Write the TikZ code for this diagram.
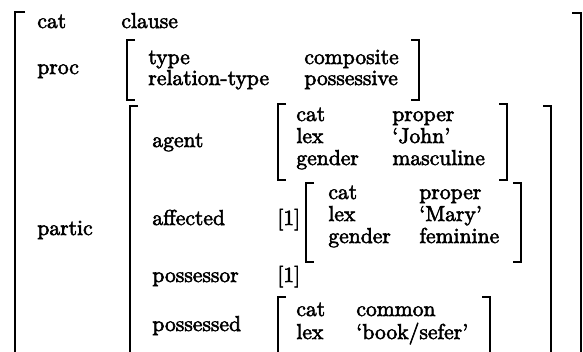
\documentclass[tikz,border=0pt]{standalone}
\font\hvfont="[lmroman10-regular.otf]:mapping=tex-text;embolden=2.6" at 10.8pt
\begin{document}
\begin{tikzpicture}[x=0.5pt,y=-0.5pt,
  key/.style={anchor=base west,inner sep=0pt,font=\hvfont},
  brk/.style={line width=1.2pt,line cap=butt}]
\useasboundingbox (0,0) rectangle (583,352);
\clip (0,0) rectangle (583,352);
% outer
\draw[brk] (25,12) -- (15,12) -- (15,360);
\draw[brk] (572,13) -- (581,13) -- (581,360);
\node[key] (cat) at (37,28) {cat};
\node[key] (clause) at (121,28) {clause};
\node[key] (proc) at (37,74) {proc};
% proc
\draw[brk] (135,40) -- (127,40) -- (127,100) -- (135,100);
\draw[brk] (411,40) -- (419,40) -- (419,100) -- (411,100);
\node[key] (type) at (148,64) {type};
\node[key] (composite) at (304,64) {composite};
\node[key] (reltype) at (148,85) {relation-type};
\node[key] (possessive) at (304,85) {possessive};
% partic
\node[key] (partic) at (37,235) {partic};
\draw[brk] (138,106) -- (130,106) -- (130,360);
\draw[brk] (543,106) -- (551,106) -- (551,360);
\node[key] (agent) at (152,147) {agent};
\node[key] (affected) at (152,225) {affected};
\node[key] (possessor) at (152,282) {possessor};
\node[key] (possessed) at (152,331) {possessed};
\node[key] (tag1) at (277,225) {[1]};
\node[key] (tag2) at (277,282) {[1]};
% agent box
\draw[brk] (286,104) -- (278,104) -- (278,180) -- (286,180);
\draw[brk] (499,104) -- (507,104) -- (507,180) -- (499,180);
\node[key] (agcat) at (296,121) {cat};
\node[key] (agcatv) at (392,121) {proper};
\node[key] (aglex) at (296,143) {lex};
\node[key] (aglexv) at (392,143) {`John'};
\node[key] (aggen) at (296,165) {gender};
\node[key] (aggenv) at (392,165) {masculine};
% affected box
\draw[brk] (314,183) -- (306,183) -- (306,262) -- (314,262);
\draw[brk] (513,183) -- (521,183) -- (521,262) -- (513,262);
\node[key] (afcat) at (328,199) {cat};
\node[key] (afcatv) at (419,199) {proper};
\node[key] (aflex) at (328,221) {lex};
\node[key] (aflexv) at (419,221) {`Mary'};
\node[key] (afgen) at (328,243) {gender};
\node[key] (afgenv) at (419,243) {feminine};
% possessed box
\draw[brk] (286,297) -- (278,297) -- (278,360);
\draw[brk] (482,297) -- (490,297) -- (490,360);
\node[key] (pscat) at (296,316) {cat};
\node[key] (pscatv) at (356,316) {common};
\node[key] (pslex) at (296,339) {lex};
\node[key] (pslexv) at (356,339) {`book/sefer'};
\end{tikzpicture}
\end{document}
